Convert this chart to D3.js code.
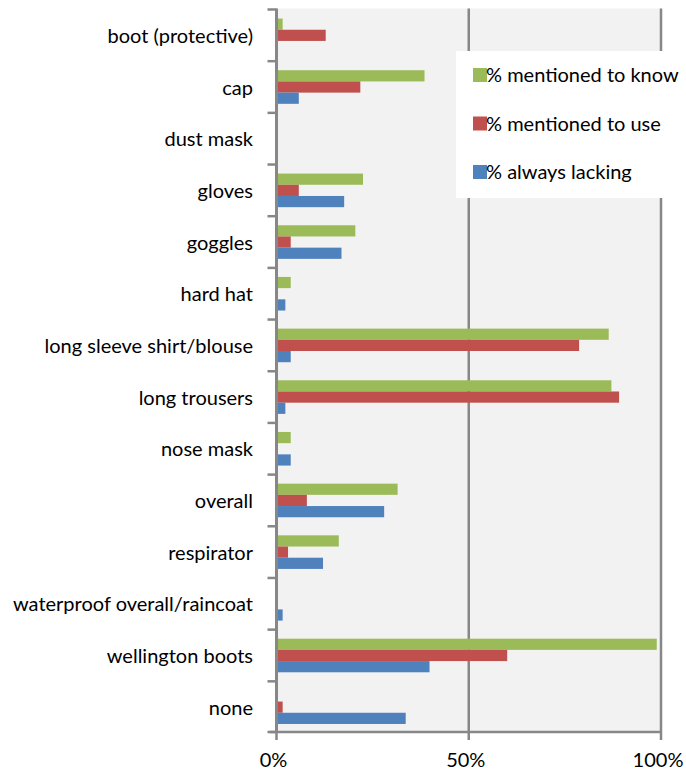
<!DOCTYPE html>
<html>
<head>
<meta charset="utf-8">
<script src="https://cdn.jsdelivr.net/npm/d3@7"></script>
<style>
  body { margin: 0; background: #fff; }
  text { font-family: Lato, "Open Sans", sans-serif; fill: #000; }
</style>
</head>
<body>
<div id="chart"></div>
<script>
// Categories, top to bottom
var categories = ["boot (protective)", "cap", "dust mask", "gloves", "goggles", "hard hat",
    "long sleeve shirt/blouse", "long trousers", "nose mask", "overall", "respirator",
    "waterproof overall/raincoat", "wellington boots", "none"];
// Series values (%)
var knowVals = [1.6, 38.5, 0, 22.5, 20.5, 3.7, 86.4, 87.1, 3.7, 31.5, 16.2, 0, 98.9, 0];
var useVals = [12.8, 21.8, 0, 5.8, 3.7, 0, 78.7, 89.1, 0, 7.9, 3.0, 0, 60.0, 1.6];
var lackVals = [0, 5.8, 0, 17.6, 16.9, 2.3, 3.7, 2.3, 3.7, 28.0, 12.1, 1.6, 39.8, 33.6];
var seriesNames = ["% mentioned to know", "% mentioned to use", "% always lacking"];
var seriesColors = ["#9bbb59", "#c0504d", "#4f81bd"];
var xTicks = [0, 50, 100];

var W = 686, H = 771;
var plotLeft = 276.5, plotRight = 661, plotTop = 8.5, plotBottom = 732;

var svg = d3.select("#chart").append("svg")
    .attr("width", W)
    .attr("height", H);

var x = d3.scaleLinear().domain([0, 100]).range([plotLeft, plotRight]);
var y = d3.scaleBand().domain(categories).range([9.5, 733])
    .paddingInner(0.35).paddingOuter(0.175);
var ySub = d3.scaleBand().domain(d3.range(3)).range([0, y.bandwidth()]);
var step = y.step();

// Plot background
svg.append("rect")
    .attr("x", plotLeft).attr("y", plotTop)
    .attr("width", plotRight - plotLeft).attr("height", plotBottom - plotTop)
    .attr("fill", "#f2f2f2");

// Gridlines
svg.append("g").selectAll("line")
    .data(xTicks.filter(function (d) { return d > 0; }))
    .enter().append("line")
    .attr("x1", function (d) { return x(d); })
    .attr("x2", function (d) { return x(d); })
    .attr("y1", plotTop).attr("y2", plotBottom)
    .attr("stroke", "#878787")
    .attr("stroke-width", 2.5);

// Bars
var rows = categories.map(function (c, i) {
    return { cat: c, vals: [knowVals[i], useVals[i], lackVals[i]] };
});
var groups = svg.append("g").selectAll("g")
    .data(rows)
    .enter().append("g")
    .attr("transform", function (d) { return "translate(0," + y(d.cat) + ")"; });
groups.selectAll("rect")
    .data(function (d) { return d.vals; })
    .enter().append("rect")
    .attr("x", x(0))
    .attr("y", function (d, i) { return ySub(i); })
    .attr("width", function (d) { return x(d) - x(0); })
    .attr("height", ySub.bandwidth())
    .attr("fill", function (d, i) { return seriesColors[i]; });

// Y axis line and ticks at band boundaries
var bounds = d3.range(categories.length).map(function (i) { return 9.5 + i * step; });
bounds.push(plotBottom);
svg.append("g").selectAll("line")
    .data(bounds)
    .enter().append("line")
    .attr("x1", plotLeft - 9).attr("x2", plotLeft)
    .attr("y1", function (d) { return d; })
    .attr("y2", function (d) { return d; })
    .attr("stroke", "#878787")
    .attr("stroke-width", 2.5);
svg.append("line")
    .attr("x1", plotLeft).attr("x2", plotLeft)
    .attr("y1", plotTop).attr("y2", plotBottom + 1)
    .attr("stroke", "#878787")
    .attr("stroke-width", 3);

// Category labels
svg.append("g").selectAll("text")
    .data(categories)
    .enter().append("text")
    .attr("x", 253)
    .attr("y", function (d) { return y(d) + y.bandwidth() / 2; })
    .attr("dy", "0.38em")
    .attr("text-anchor", "end")
    .style("font-size", "20px")
    .text(function (d) { return d; });

// X axis
svg.append("line")
    .attr("x1", 270).attr("x2", plotRight + 1)
    .attr("y1", plotBottom).attr("y2", plotBottom)
    .attr("stroke", "#878787")
    .attr("stroke-width", 2.5);
svg.append("g").selectAll("line")
    .data(xTicks)
    .enter().append("line")
    .attr("x1", function (d) { return x(d); })
    .attr("x2", function (d) { return x(d); })
    .attr("y1", plotBottom).attr("y2", plotBottom + 8)
    .attr("stroke", "#878787")
    .attr("stroke-width", 2.5);
svg.append("g").selectAll("text")
    .data(xTicks)
    .enter().append("text")
    .attr("x", function (d) { return x(d) - 3; })
    .attr("y", 767)
    .attr("text-anchor", "middle")
    .style("font-size", "20px")
    .text(function (d) { return d + "%"; });

// Legend
var legend = svg.append("g");
legend.append("rect")
    .attr("x", 456).attr("y", 51)
    .attr("width", 208).attr("height", 147)
    .attr("fill", "#fff");
var items = legend.selectAll("g")
    .data(seriesNames)
    .enter().append("g")
    .attr("transform", function (d, i) { return "translate(473," + (75 + i * 48.5) + ")"; });
items.append("rect")
    .attr("x", 0).attr("y", -7)
    .attr("width", 14).attr("height", 14)
    .attr("fill", function (d, i) { return seriesColors[i]; });
items.append("text")
    .attr("x", 13)
    .attr("y", 0)
    .attr("dy", "0.35em")
    .style("font-size", "20px")
    .text(function (d) { return d; });
</script>
</body>
</html>
